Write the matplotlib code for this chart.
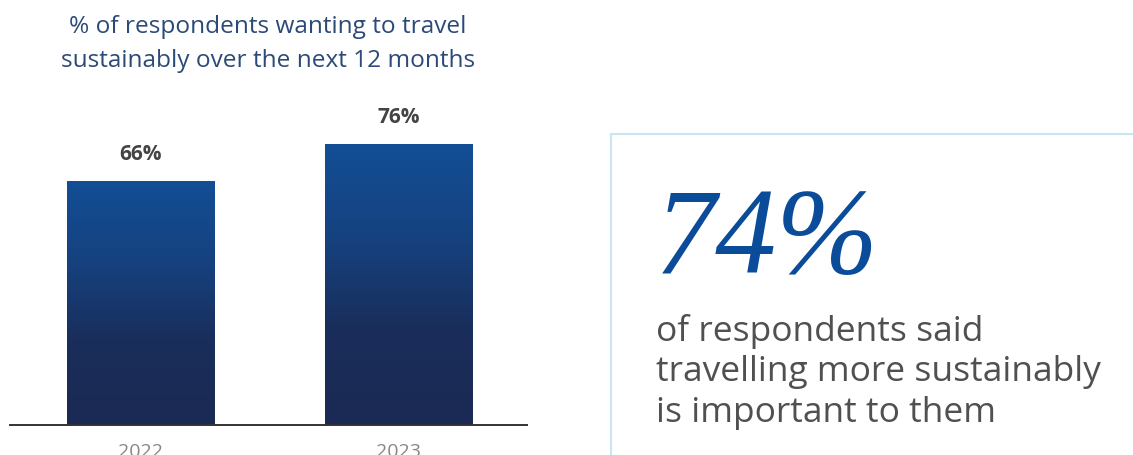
import numpy as np
import matplotlib
matplotlib.use("Agg")
import matplotlib.pyplot as plt
from matplotlib.colors import LinearSegmentedColormap
from matplotlib.lines import Line2D

# data
years = ["2022", "2023"]
values = [66, 76]
headline = "74%"
headline_text = "of respondents said\ntravelling more sustainably\nis important to them"
title = "% of respondents wanting to travel\nsustainably over the next 12 months"

SANS = ["Open Sans", "DejaVu Sans"]
bar_cmap = LinearSegmentedColormap.from_list("bar", ["#1a2a54", "#1a2d5a", "#16427f", "#134e96"])

fig = plt.figure(figsize=(11.33, 4.56), dpi=100)

# bar chart
ax = fig.add_axes([10 / 1133, 30 / 456, 517 / 1133, 370 / 456])
x = np.arange(len(years))
bars = ax.bar(x, values, width=0.57, color="none", edgecolor="none")
grad = np.linspace(0, 1, 256).reshape(-1, 1)
for b in bars:
    x0, w, h = b.get_x(), b.get_width(), b.get_height()
    im = ax.imshow(grad, extent=(x0, x0 + w, 0, h), origin="lower", cmap=bar_cmap,
                   aspect="auto", zorder=2)
    im.set_clip_path(b)
    ax.text(x0 + w / 2, h + 4.6, f"{h:.0f}%", ha="center", va="bottom",
            fontsize=15, fontweight="bold", color="#444444", family=SANS)

ax.set_xlim(-0.506, 1.498)
ax.set_ylim(0, 100)
ax.set_xticks(x, years)
ax.tick_params(axis="x", length=0, pad=12, labelsize=14, labelcolor="#888888")
ax.set_yticks([])
for s in ["top", "left", "right"]:
    ax.spines[s].set_visible(False)
ax.spines["bottom"].set_color("#333333")
ax.spines["bottom"].set_linewidth(1.4)
for lab in ax.get_xticklabels():
    lab.set_family(SANS)

fig.text(268 / 1133, 1 - 44 / 456, title, ha="center", va="center", fontsize=17.6,
         color="#2b4a78", family=SANS, linespacing=1.52)

# right panel box
box_x = 611 / 1133
box_y = 1 - 135 / 456
fig.add_artist(Line2D([box_x, 1], [box_y, box_y], transform=fig.transFigure,
                      color="#c8e6f5", lw=1.5))
fig.add_artist(Line2D([box_x, box_x], [0, box_y], transform=fig.transFigure,
                      color="#c8e6f5", lw=1.5))

fig.text(655 / 1133, 1 - 273 / 456, headline, ha="left", va="baseline", fontsize=88,
         style="italic", color="#0a4c99", family=["Liberation Serif", "DejaVu Serif"])

fig.text(656 / 1133, 1 - 372 / 456, headline_text, ha="left", va="center", fontsize=25.5,
         color="#505050", family=SANS, linespacing=1.25)

fig.savefig("out.png", dpi=100)
